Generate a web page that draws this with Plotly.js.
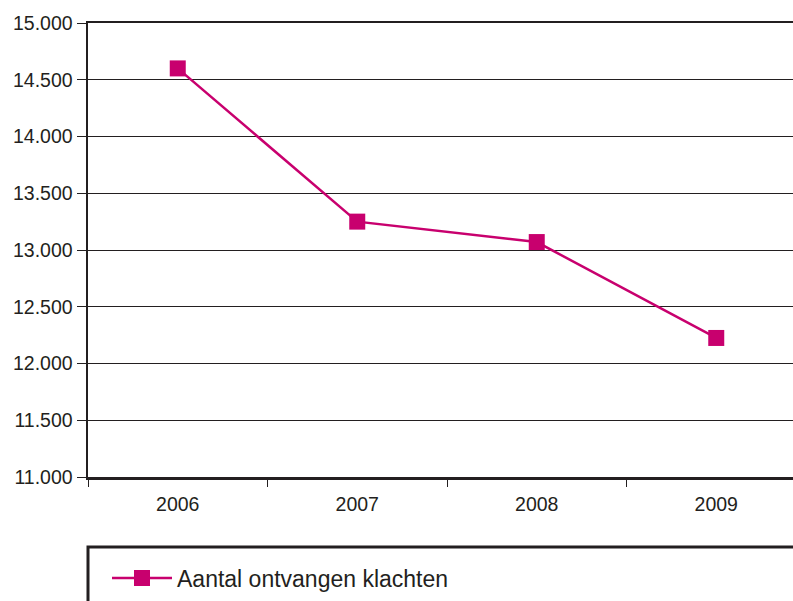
<!DOCTYPE html>
<html>
<head>
<meta charset="utf-8">
<script src="https://cdn.plot.ly/plotly-3.0.1.min.js"></script>
<style>
html,body{margin:0;padding:0;overflow:hidden;background:#fff;}
#chart{width:900px;height:601px;}
</style>
</head>
<body>
<div id="chart"></div>
<script>
const years = ['2006', '2007', '2008', '2009'];
const klachten = [14600, 13250, 13070, 12225];
const seriesName = 'Aantal ontvangen klachten';
const yTickVals = [11000, 11500, 12000, 12500, 13000, 13500, 14000, 14500, 15000];
const yTickText = ['11.000', '11.500', '12.000', '12.500', '13.000', '13.500', '14.000', '14.500', '15.000'];

const color = '#c8006e';
const trace = {
  x: years,
  y: klachten,
  type: 'scatter',
  mode: 'lines+markers',
  name: seriesName,
  line: {color: color, width: 2.5},
  marker: {symbol: 'square', size: 16, color: color},
  showlegend: true
};

const layout = {
  width: 900,
  height: 601,
  margin: {l: 88, r: 94, t: 23, b: 124, autoexpand: false},
  paper_bgcolor: '#fff',
  plot_bgcolor: '#fff',
  font: {family: 'Liberation Sans, Arial, sans-serif', size: 20, color: '#231f20'},
  showlegend: true,
  xaxis: {
    type: 'category',
    range: [-0.5, 3.5],
    showline: true,
    linecolor: '#231f20',
    linewidth: 2.5,
    mirror: true,
    ticks: 'outside',
    tickson: 'boundaries',
    ticklen: 7,
    tickwidth: 1,
    tickcolor: '#231f20',
    ticklabelstandoff: 8,
    showgrid: false,
    zeroline: false,
    tickfont: {size: 19.5},
    fixedrange: true
  },
  yaxis: {
    range: [11000, 15000],
    tickvals: yTickVals,
    ticktext: yTickText,
    showline: true,
    linecolor: '#231f20',
    linewidth: 2.5,
    mirror: true,
    ticks: 'outside',
    ticklen: 9,
    tickwidth: 1,
    tickcolor: '#231f20',
    showgrid: true,
    gridcolor: '#231f20',
    gridwidth: 1,
    zeroline: false,
    tickfont: {size: 19.5},
    fixedrange: true
  },
  legend: {
    xref: 'container',
    yref: 'container',
    x: 107 / 900,
    xanchor: 'left',
    y: 1 - 578 / 601,
    yanchor: 'middle',
    bgcolor: 'rgba(0,0,0,0)',
    borderwidth: 0,
    font: {size: 23, color: '#231f20'},
    itemwidth: 60
  },
  shapes: [
    {type: 'rect', xref: 'paper', yref: 'paper', x0: 0, x1: 2, y0: -1, y1: -0.154,
     line: {color: '#231f20', width: 3}, fillcolor: 'rgba(0,0,0,0)', layer: 'below'}
  ]
};

Plotly.newPlot('chart', [trace], layout, {displayModeBar: false, staticPlot: true});
</script>
</body>
</html>
